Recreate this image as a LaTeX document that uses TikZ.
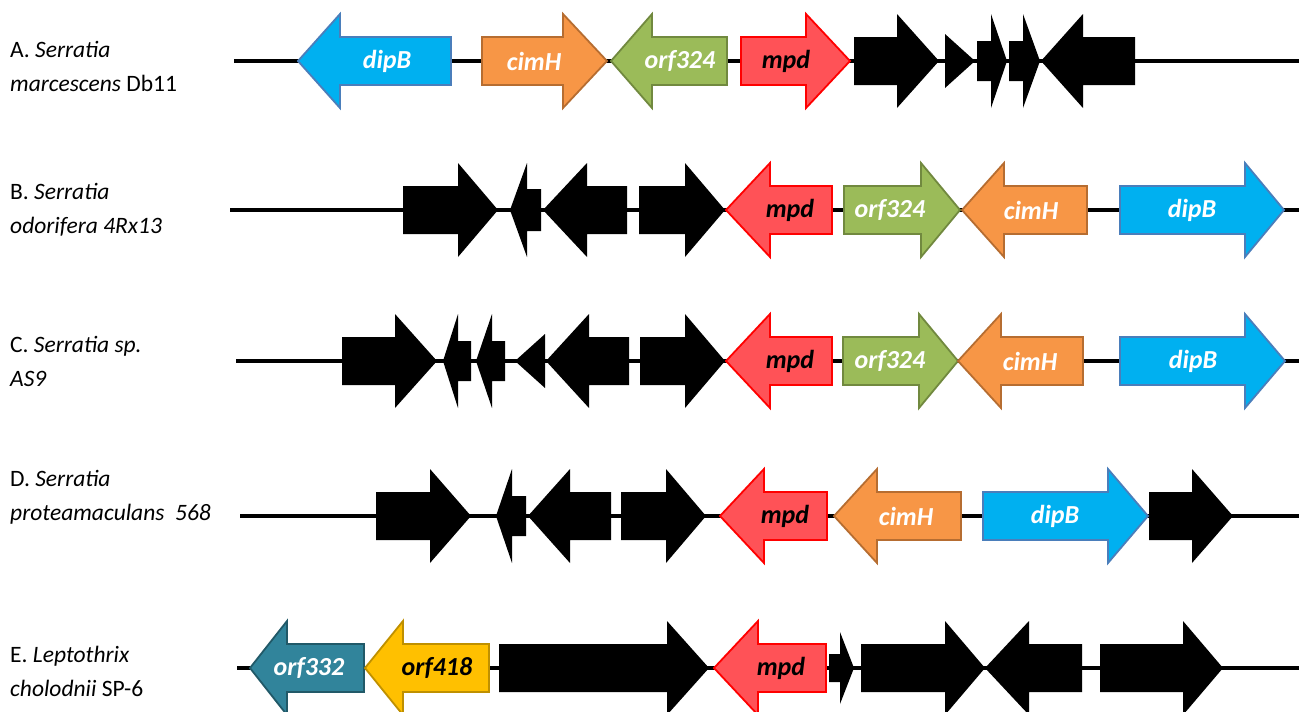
\documentclass[tikz,border=0pt]{standalone}
\usepackage{fontspec}
\setmainfont{Carlito}
\definecolor{dipbF}{HTML}{00B0F0}\definecolor{dipbS}{HTML}{4A7EBB}
\definecolor{cimhF}{HTML}{F79646}\definecolor{cimhS}{HTML}{B66D31}
\definecolor{orfF}{HTML}{9BBB59}\definecolor{orfS}{HTML}{71893F}
\definecolor{mpdF}{HTML}{FF5257}\definecolor{mpdS}{HTML}{FF0000}
\definecolor{tealF}{HTML}{31849B}\definecolor{tealS}{HTML}{215968}
\definecolor{goldF}{HTML}{FFC000}\definecolor{goldS}{HTML}{BF9000}
% style, body end, head base, tip, centre y, body half height, head half height
\newcommand\genearrow[7]{%
  \path[#1] (#2,#5-#6) -- (#3,#5-#6) -- (#3,#5-#7) -- (#4,#5) -- (#3,#5+#7) -- (#3,#5+#6) -- (#2,#5+#6) -- cycle;}
\newcommand\gn[5]{\genearrow{#1}{#2}{#3}{#4}{#5}{24}{47}}
\tikzset{
  dipb/.style={fill=dipbF,draw=dipbS,line width=1.8pt},
  cimh/.style={fill=cimhF,draw=cimhS,line width=1.8pt},
  orfg/.style={fill=orfF,draw=orfS,line width=1.8pt},
  mpdg/.style={fill=mpdF,draw=mpdS,line width=1.8pt},
  tealg/.style={fill=tealF,draw=tealS,line width=1.8pt},
  goldg/.style={fill=goldF,draw=goldS,line width=1.8pt},
  blk/.style={fill=black},
  chrom/.style={line width=3.5pt,black},
  glab/.style={font=\fontsize{26}{30}\selectfont\bfseries\itshape,inner sep=0pt},
  rowlab/.style={font=\fontsize{23.5}{34}\selectfont,align=left,anchor=west,inner sep=0pt},
}
\begin{document}
\begin{tikzpicture}[x=1pt,y=-1pt]
\useasboundingbox (0,0) rectangle (1299,712);
% ---------- Row A ----------
\node[rowlab] (labA) at (10,66) {A. \textit{Serratia}\\\textit{marcescens} Db11};
\coordinate (a0) at (234,61); \coordinate (a1) at (1299,61);
\draw[chrom] (a0) -- (a1);
\gn{dipb}{451}{340}{298}{61}
\gn{cimh}{482}{563}{607}{61}
\gn{orfg}{727}{652}{611}{61}
\gn{mpdg}{741}{806}{850}{61}
\gn{blk}{854}{897}{939}{61}
\genearrow{blk}{945}{945}{975}{61}{0}{27}
\genearrow{blk}{977}{991}{1007}{61}{20}{47}
\genearrow{blk}{1009}{1023}{1040}{61}{20}{47}
\gn{blk}{1135}{1083}{1041}{61}
\node[glab,text=white] (gA1) at (387,61) {dipB};
\node[glab,text=white] (gA2) at (534,61) {cimH};
\node[glab,text=white] (gA3) at (680,61) {orf324};
\node[glab,text=black] (gA4) at (786,61) {mpd};
% ---------- Row B ----------
\node[rowlab] (labB) at (10,210) {B. \textit{Serratia}\\\textit{odorifera 4Rx13}};
\coordinate (b0) at (230,210); \coordinate (b1) at (1299,210);
\draw[chrom] (b0) -- (b1);
\gn{blk}{403}{458}{498}{210}
\genearrow{blk}{541}{527}{510}{210}{21}{47}
\gn{blk}{627}{587}{543}{210}
\gn{blk}{639}{685}{725}{210}
\gn{mpdg}{832}{770}{726}{210}
\gn{orfg}{844}{921}{960}{210}
\gn{cimh}{1087}{1004}{962}{210}
\gn{dipb}{1120}{1245}{1284}{210}
\node[glab,text=black] (gB1) at (790,210) {mpd};
\node[glab,text=white] (gB2) at (890,210) {orf324};
\node[glab,text=white] (gB3) at (1031,210) {cimH};
\node[glab,text=white] (gB4) at (1192,210) {dipB};
% ---------- Row C ----------
\node[rowlab] (labC) at (10,361) {C. \textit{Serratia sp.}\\\textit{AS9}};
\coordinate (c0) at (236,361); \coordinate (c1) at (1299,361);
\draw[chrom] (c0) -- (c1);
\gn{blk}{342}{395}{437}{361}
\genearrow{blk}{471}{458}{443}{361}{20}{47}
\genearrow{blk}{505}{492}{476}{361}{20}{47}
\genearrow{blk}{545}{545}{515}{361}{0}{27}
\gn{blk}{629}{589}{546}{361}
\gn{blk}{640}{685}{725}{361}
\gn{mpdg}{832}{770}{726}{361}
\gn{orfg}{843}{919}{958}{361}
\gn{cimh}{1083}{1001}{958}{361}
\gn{dipb}{1120}{1245}{1285}{361}
\node[glab,text=black] (gC1) at (790,361) {mpd};
\node[glab,text=white] (gC2) at (890,361) {orf324};
\node[glab,text=white] (gC3) at (1030,361) {cimH};
\node[glab,text=white] (gC4) at (1193,361) {dipB};
% ---------- Row D ----------
\node[rowlab] (labD) at (10,497) {D. \textit{Serratia}\\\textit{proteamaculans\ \ 568}};
\coordinate (d0) at (240,516); \coordinate (d1) at (1299,516);
\draw[chrom] (d0) -- (d1);
\gn{blk}{376}{430}{471}{516}
\genearrow{blk}{526}{512}{496}{516}{20}{47}
\gn{blk}{611}{570}{528}{516}
\gn{blk}{621}{666}{706}{516}
\gn{mpdg}{827}{764}{720}{516}
\gn{cimh}{961}{877}{834}{516}
\gn{dipb}{983}{1108}{1148}{516}
\gn{blk}{1149}{1192}{1233}{516}
\node[glab,text=black] (gD1) at (785,516) {mpd};
\node[glab,text=white] (gD2) at (906,516) {cimH};
\node[glab,text=white] (gD3) at (1055,516) {dipB};
% ---------- Row E ----------
\node[rowlab] (labE) at (10,671) {E. \textit{Leptothrix}\\\textit{cholodnii} SP-6};
\coordinate (e0) at (237,668); \coordinate (e1) at (1299,668);
\draw[chrom] (e0) -- (e1);
\gn{tealg}{364}{287}{250}{668}
\gn{goldg}{489}{403}{365}{668}
\gn{blk}{499}{667}{709}{668}
\gn{mpdg}{826}{758}{714}{668}
\genearrow{blk}{829}{840}{854}{668}{14}{36}
\gn{blk}{861}{945}{985}{668}
\gn{blk}{1082}{1029}{985}{668}
\gn{blk}{1100}{1183}{1223}{668}
\node[glab,text=white] (gE1) at (309,668) {orf332};
\node[glab,text=black] (gE2) at (437,668) {orf418};
\node[glab,text=black] (gE3) at (781,668) {mpd};
\end{tikzpicture}
\end{document}
